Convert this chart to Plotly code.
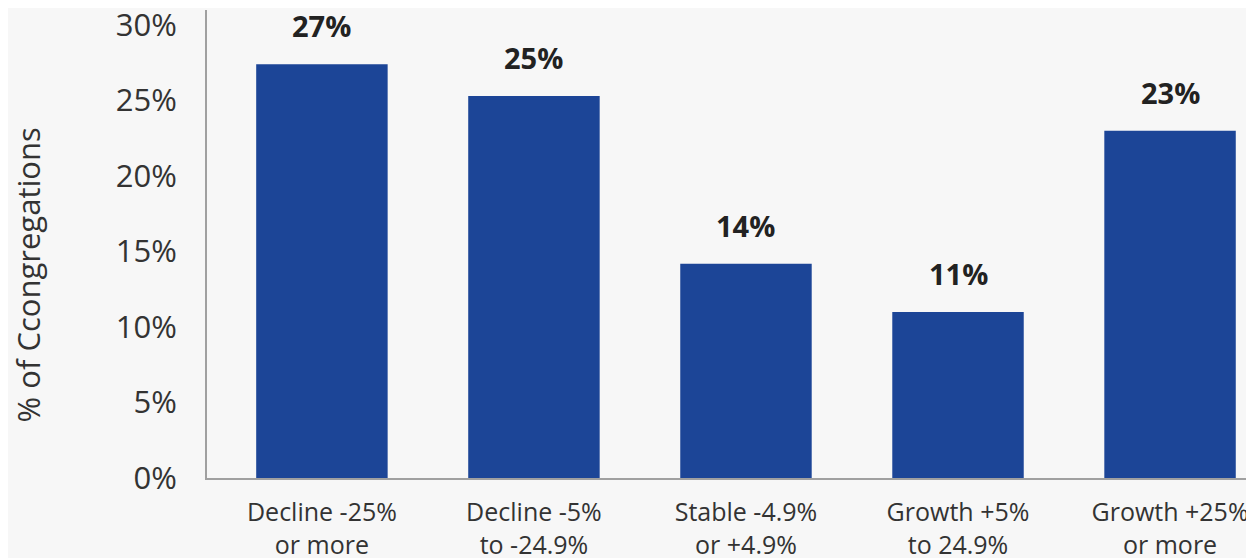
import plotly.graph_objects as go

categories = [
    "Decline -25%<br>or more",
    "Decline -5%<br>to -24.9%",
    "Stable -4.9%<br>or +4.9%",
    "Growth +5%<br>to 24.9%",
    "Growth +25%<br>or more",
]
shares = [27.4, 25.3, 14.2, 11.0, 23.0]
share_labels = ["27%", "25%", "14%", "11%", "23%"]
y_ticks = [0, 5, 10, 15, 20, 25, 30]

BAR = "#1c4597"
BG = "#f7f7f7"
TEXT = "#222222"
FONT = "Open Sans"

x_pos = list(range(len(categories)))

fig = go.Figure(
    go.Bar(
        x=x_pos, y=shares, width=0.62,
        marker=dict(color=BAR, line=dict(width=0)),
        hoverinfo="skip",
    )
)

for x, y, label in zip(x_pos, shares, share_labels):
    fig.add_annotation(
        x=x, y=y, text=f"<b>{label}</b>", showarrow=False,
        yanchor="bottom", yshift=17,
        font=dict(family=FONT, size=29, color=TEXT),
    )

# y title placed by hand: it sits below the middle of the axis in the original
fig.add_annotation(
    text="% of Ccongregations", textangle=-90, showarrow=False,
    xref="paper", yref="paper", x=-0.171, y=0.435,
    xanchor="center", yanchor="middle",
    font=dict(family=FONT, size=31, color="#333333"),
)

# the page body adds an 8px offset, so margins are shifted to compensate
fig.update_layout(
    width=1254, height=558,
    paper_bgcolor=BG, plot_bgcolor=BG,
    margin=dict(l=199, r=8, t=2, b=88, autoexpand=False),
    showlegend=False,
    font=dict(family=FONT, color=TEXT),
)

fig.update_xaxes(
    range=[-0.542, 4.396], automargin=False,
    tickmode="array", tickvals=x_pos, ticktext=categories,
    tickfont=dict(family=FONT, size=25, color="#333333"),
    showline=True, linecolor="#a0a0a0", linewidth=2,
    showgrid=False, zeroline=False, ticks="", ticklabelstandoff=11,
)

fig.update_yaxes(
    range=[0, 31], automargin=False,
    tickmode="array", tickvals=y_ticks,
    ticktext=[f"{t}%" for t in y_ticks],
    tickfont=dict(family=FONT, size=31, color="#333333"),
    ticklabeloverflow="allow",
    showline=True, linecolor="#a0a0a0", linewidth=2,
    showgrid=False, zeroline=False, ticks="", ticklabelstandoff=22,
)

fig.write_html("out.html")
